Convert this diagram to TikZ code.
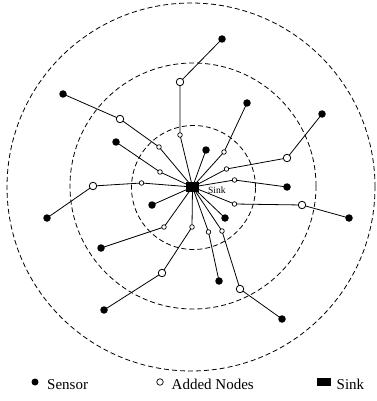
\documentclass[tikz,border=0pt]{standalone}
\usepackage{fontspec}
\setmainfont{Liberation Serif}
\begin{document}
\begin{tikzpicture}[x=1pt,y=-1pt,
  sensor/.style={circle,fill=black,inner sep=0pt,minimum size=7.5pt},
  bigadd/.style={circle,draw=black,fill=white,line width=0.8pt,inner sep=0pt,minimum size=7.5pt},
  smalladd/.style={circle,draw=black,fill=white,line width=0.7pt,inner sep=0pt,minimum size=4.6pt},
  sinkbox/.style={rectangle,fill=black,inner sep=0pt,minimum width=13pt,minimum height=10pt},
  link/.style={line width=0.8pt},
  ring/.style={dash pattern=on 5pt off 3pt,line width=0.8pt},
  legtext/.style={anchor=base west,inner sep=0pt,font=\fontsize{15}{18}\selectfont}]
\useasboundingbox (0,0) rectangle (376,401);

% rings
\draw[ring] (191,187) circle[radius=184pt];
\draw[ring] (193,186) circle[radius=123pt];
\draw[ring] (193.5,187.5) circle[radius=62pt];

% sink
\coordinate (k) at (192.5,187);

% sensors
\coordinate (s1) at (222,39);
\coordinate (s2) at (63,94);
\coordinate (s3) at (247,103);
\coordinate (s4) at (322,114);
\coordinate (s5) at (116,142);
\coordinate (s6) at (206,150);
\coordinate (s7) at (287,187);
\coordinate (s8) at (47,218);
\coordinate (s9) at (152,205);
\coordinate (s10) at (225,218);
\coordinate (s11) at (349,218);
\coordinate (s12) at (101,248);
\coordinate (s13) at (219,281);
\coordinate (s14) at (104,310);
\coordinate (s15) at (282,319);

% added nodes
\coordinate (a1) at (180,82);
\coordinate (a2) at (120,119);
\coordinate (a3) at (180,135);
\coordinate (a4) at (159,147);
\coordinate (a5) at (224,152);
\coordinate (a6) at (160,172);
\coordinate (a7) at (287,158);
\coordinate (a8) at (226.5,169);
\coordinate (a9) at (141.5,183);
\coordinate (a10) at (93,186);
\coordinate (a11) at (234.5,180);
\coordinate (a12) at (234.5,204);
\coordinate (a13) at (302,205);
\coordinate (a14) at (164,227);
\coordinate (a15) at (192,227);
\coordinate (a16) at (208.5,232);
\coordinate (a17) at (222,231);
\coordinate (a18) at (162,273);
\coordinate (a19) at (240,289);

% links
\draw[link] (k) -- (a3) -- (a1) -- (s1);
\draw[link] (k) -- (a4) -- (a2) -- (s2);
\draw[link] (k) -- (a5) -- (s3);
\draw[link] (k) -- (a8) -- (a7) -- (s4);
\draw[link] (k) -- (a6) -- (s5);
\draw[link] (k) -- (s6);
\draw[link] (k) -- (a11) -- (s7);
\draw[link] (k) -- (a9) -- (a10) -- (s8);
\draw[link] (k) -- (s9);
\draw[link] (k) -- (s10);
\draw[link] (k) -- (a12) -- (a13) -- (s11);
\draw[link] (k) -- (a14) -- (s12);
\draw[link] (k) -- (a16) -- (s13);
\draw[link] (k) -- (a15) -- (a18) -- (s14);
\draw[link] (k) -- (a17) -- (a19) -- (s15);

% node marks
\node[sinkbox] (sink) at (k) {};
\node[anchor=west,inner sep=0pt,font=\fontsize{9.5}{11}\selectfont] (sinklabel) at (208,190.5) {Sink};
\foreach \i in {1,...,15} {\node[sensor] (S\i) at (s\i) {};}
\foreach \i in {1,2,7,10,13,18,19} {\node[bigadd] (A\i) at (a\i) {};}
\foreach \i in {3,4,5,6,8,9,11,12,14,15,16,17} {\node[smalladd] (A\i) at (a\i) {};}

% legend
\node[sensor,minimum size=7pt] (legS) at (35,382) {};
\node[legtext] (legSt) at (47,389) {Sensor};
\node[smalladd,minimum size=6.5pt,line width=0.7pt] (legA) at (160,382) {};
\node[legtext] (legAt) at (171.5,389) {Added Nodes};
\node[rectangle,fill=black,inner sep=0pt,minimum width=14pt,minimum height=8pt] (legK) at (324,381.5) {};
\node[legtext] (legKt) at (336.5,389) {Sink};
\end{tikzpicture}
\end{document}
